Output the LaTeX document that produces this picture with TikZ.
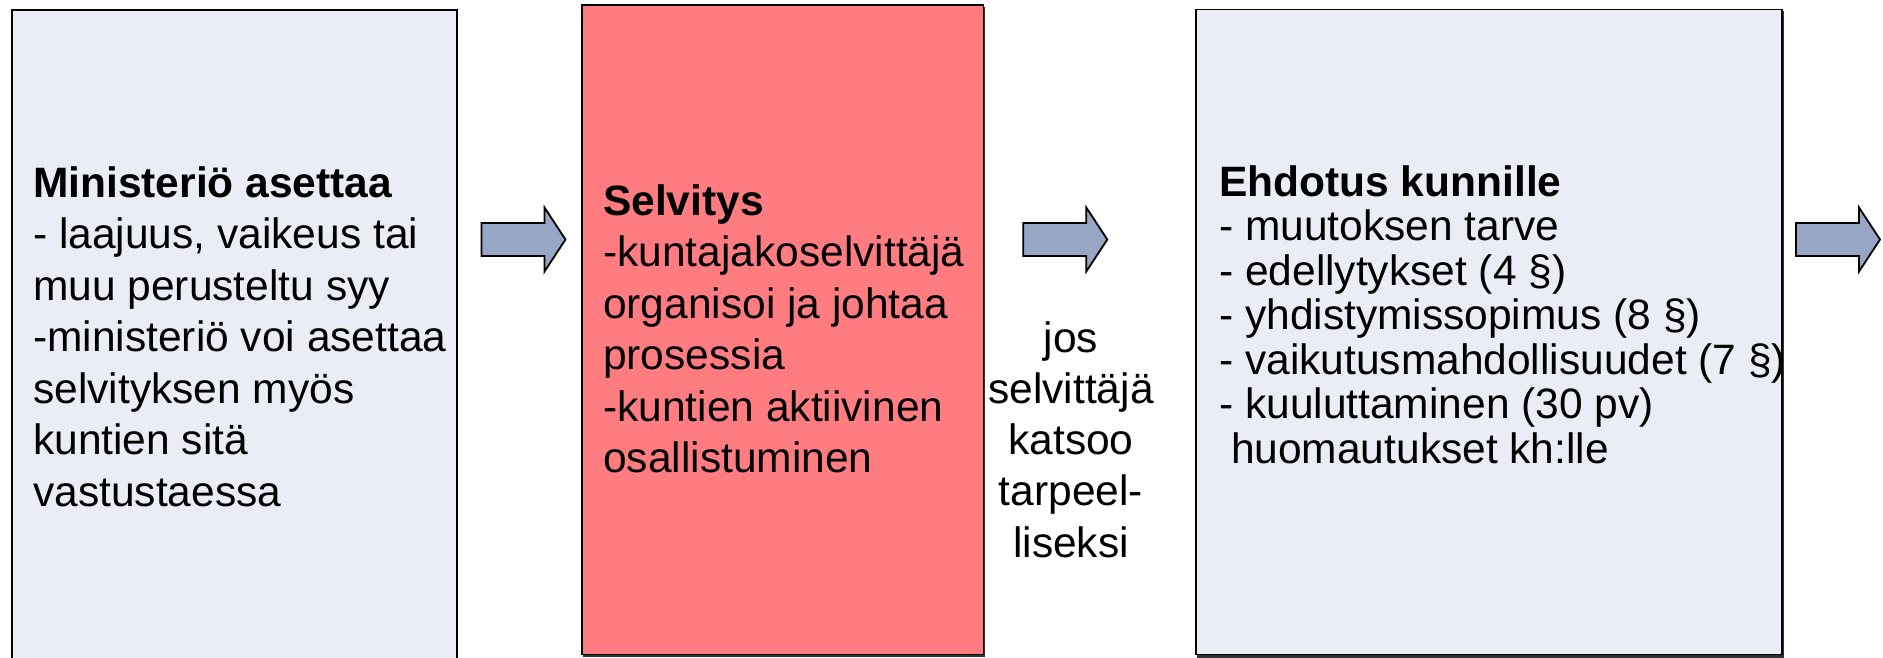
\documentclass[tikz,border=0pt]{standalone}
\usepackage{fontspec}
\setmainfont{Liberation Sans}
\definecolor{boxgray}{HTML}{EAEDF5}
\definecolor{boxred}{HTML}{FF7C80}
\definecolor{arrowblue}{HTML}{97A6C4}
\begin{document}
\begin{tikzpicture}[x=1bp,y=-1bp,
  box/.style={draw=black,line width=1.5bp,anchor=north west,inner sep=0pt,outer sep=0pt},
  shadowbox/.style={fill=black!80,draw=none},
  txt/.style={anchor=base west,inner sep=0pt,font=\fontsize{42.5bp}{51.5bp}\selectfont},
  txtsmall/.style={anchor=base west,inner sep=0pt,font=\fontsize{42.5bp}{44.5bp}\selectfont},
  midtxt/.style={anchor=base,inner sep=0pt,font=\fontsize{42.5bp}{51.3bp}\selectfont},
  blockarrow/.style={draw=black,line width=1.8bp,fill=arrowblue,line join=miter}]
\useasboundingbox (0,0) rectangle (1883,658);
\clip (0,0) rectangle (1883,658);
\fill[white] (0,0) rectangle (1883,658);
% shadows
\fill[shadowbox] (13,12.5) rectangle (458,680);
\fill[shadowbox] (583,7.5) rectangle (984.5,657);
\fill[shadowbox] (1197,11.5) rectangle (1783.5,657.5);
% boxes
\node[box,fill=boxgray,minimum width=445bp,minimum height=670bp] (b1) at (12,10) {};
\node[box,fill=boxred,minimum width=401.5bp,minimum height=649.5bp] (b2) at (582,5) {};
\node[box,fill=boxgray,minimum width=586bp,minimum height=645bp] (b3) at (1196,9.5) {};
% texts
\node[txt] (t1) at (33,197) {\begin{tabular}[t]{@{}l@{}}
\textbf{Ministeriö asettaa}\\
- laajuus, vaikeus tai\\
muu perusteltu syy\\
-ministeriö voi asettaa\\
selvityksen myös\\
kuntien sitä\\
vastustaessa\end{tabular}};
\node[txt] (t2) at (603,215) {\begin{tabular}[t]{@{}l@{}}
\textbf{Selvitys}\\
-kuntajakoselvittäjä\\
organisoi ja johtaa\\
prosessia\\
-kuntien aktiivinen\\
osallistuminen\end{tabular}};
\node[midtxt] (tm) at (1071,352) {\begin{tabular}[t]{@{}c@{}}
jos\\
selvittäjä\\
katsoo\\
tarpeel-\\
liseksi\end{tabular}};
\node[txtsmall] (t3) at (1219,196) {\begin{tabular}[t]{@{}l@{}}
\textbf{Ehdotus kunnille}\\
- muutoksen tarve\\
- edellytykset (4 §)\\
- yhdistymissopimus (8 §)\\
- vaikutusmahdollisuudet (7 §)\\
- kuuluttaminen (30 pv)\\
\hspace*{0.278em}huomautukset kh:lle\end{tabular}};
% block arrows
\foreach \sx [count=\i] in {481.5,1023.3,1796} {
  \draw[blockarrow] (\sx,223) coordinate (a\i) -- ++(63,0) -- ++(0,-15.5) -- ++(21,32) -- ++(-21,32) -- ++(0,-15.5) -- ++(-63,0) -- cycle;
}
\end{tikzpicture}
\end{document}
